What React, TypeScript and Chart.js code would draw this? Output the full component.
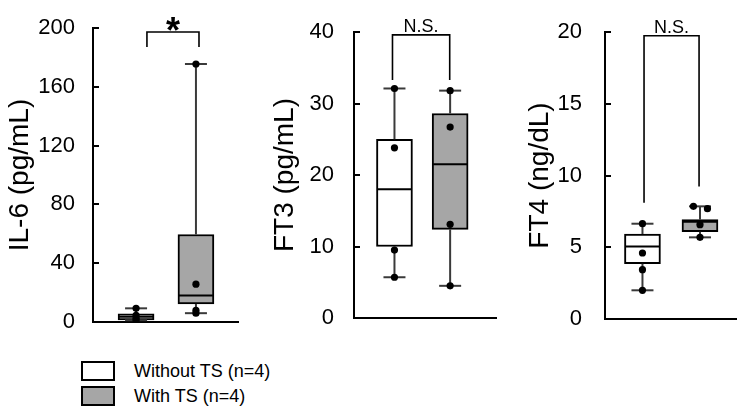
import React, { useEffect, useRef } from "react";
import { Chart, registerables } from "chart.js";

Chart.register(...registerables);

const FONT = '"Liberation Sans", Arial, Helvetica, sans-serif';

// Groups
const groupLabels = ["Without TS (n=4)", "With TS (n=4)"];
const groupFills = ["#ffffff", "#a6a6a6"];

// Box statistics per group: [min, Q1, median, Q3, max]
const il6Without = [1.2, 1.5, 3.5, 5.5, 9.3];
const il6With = [6, 12.3, 18, 59.5, 175.5];
const ft3Without = [5.7, 10, 18, 25, 32.1];
const ft3With = [4.5, 12.4, 21.5, 28.6, 31.8];
const ft4Without = [2.0, 3.85, 5.05, 5.92, 6.64];
const ft4With = [5.69, 6.08, 6.78, 6.92, 7.85];

// Individual observations
const il6PointsWithout = [9.3, 4.5, 2.5, 1.2];
const il6PointsWith = [175.5, 25.7, 8, 6];
const ft3PointsWithout = [32.1, 23.8, 9.5, 5.7];
const ft3PointsWith = [31.8, 26.7, 13.1, 4.5];
const ft4PointsWithout = [6.64, 4.6, 3.44, 2.0];
const ft4PointsWith = [7.85, 7.69, 6.57, 5.69];
const ft4JitterWith = [-0.05, 0.057, 0, 0];

// Y axes: [min, max, step]
const il6Axis = [0, 200, 40];
const ft3Axis = [0, 40, 10];
const ft4Axis = [0, 20, 5];

// Significance brackets: [xLeft, xRight, yTop, yLeftEnd, yRightEnd]
const il6Bracket = [0.372, 0.731, 197.3, 187, 187];
const ft3Bracket = [0.271, 0.674, 39.6, 33.3, 33.3];
const ft4Bracket = [0.298, 0.718, 19.74, 8.1, 9.24];
const il6Sig = "*";
const ft3Sig = "N.S.";
const ft4Sig = "N.S.";

const boxExtras = {
  id: "boxExtras",
  afterDatasetDraw(chart: any, args: any) {
    if (args.index !== 0) return;
    const cfg = chart.options.plugins.boxExtras;
    const x = chart.scales.x;
    const y = chart.scales.y;
    const ctx = chart.ctx;
    ctx.save();
    const line = (x1: number, y1: number, x2: number, y2: number) => {
      ctx.beginPath();
      ctx.moveTo(x1, y1);
      ctx.lineTo(x2, y2);
      ctx.stroke();
    };
    cfg.stats.forEach((s: number[], i: number) => {
      const cx = x.getPixelForValue(cfg.pos[i]);
      const [mn, q1, md, q3, mx] = s;
      ctx.strokeStyle = "#3a3a3a";
      ctx.lineWidth = 2;
      line(cx, y.getPixelForValue(mx), cx, y.getPixelForValue(q3));
      line(cx, y.getPixelForValue(q1), cx, y.getPixelForValue(mn));
      const ch = cfg.capHalf;
      line(cx - ch, y.getPixelForValue(mx), cx + ch, y.getPixelForValue(mx));
      line(cx - ch, y.getPixelForValue(mn), cx + ch, y.getPixelForValue(mn));
      ctx.strokeStyle = "#000";
      const bh = cfg.boxHalf;
      line(cx - bh + 1, y.getPixelForValue(md), cx + bh - 1, y.getPixelForValue(md));
    });
    ctx.restore();
  },
  afterDraw(chart: any) {
    const cfg = chart.options.plugins.boxExtras;
    const x = chart.scales.x;
    const y = chart.scales.y;
    const ctx = chart.ctx;
    const area = chart.chartArea;
    ctx.save();
    ctx.strokeStyle = "#000";
    ctx.lineWidth = 2;
    y.ticks.forEach((t: any) => {
      const py = Math.round(y.getPixelForValue(t.value));
      ctx.beginPath();
      ctx.moveTo(area.left, py);
      ctx.lineTo(area.left + 6, py);
      ctx.stroke();
    });
    const [xl, xr, yt, yle, yre] = cfg.bracket;
    const pxl = x.getPixelForValue(xl);
    const pxr = x.getPixelForValue(xr);
    const pyt = y.getPixelForValue(yt);
    ctx.lineWidth = 1.6;
    ctx.beginPath();
    ctx.moveTo(pxl, y.getPixelForValue(yle));
    ctx.lineTo(pxl, pyt);
    ctx.lineTo(pxr, pyt);
    ctx.lineTo(pxr, y.getPixelForValue(yre));
    ctx.stroke();
    ctx.fillStyle = "#000";
    ctx.textAlign = "center";
    ctx.textBaseline = "alphabetic";
    if (cfg.sig === "*") {
      ctx.font = `bold 36px ${FONT}`;
      ctx.fillText(cfg.sig, (pxl + pxr) / 2, pyt + 11);
    } else {
      ctx.font = `18px ${FONT}`;
      ctx.fillText(cfg.sig, (pxl + pxr) / 2, pyt - 3);
    }
    ctx.restore();
  },
};

type PanelCfg = {
  left: number;
  width: number;
  height: number;
  pad: { top: number; bottom: number; right: number };
  yWidth: number;
  tickPad: number;
  titlePad: number;
  title: string;
  axis: number[];
  stats: number[][];
  points: number[][];
  jitter: number[][];
  pos: number[];
  bracket: number[];
  sig: string;
};

function Panel({ cfg }: { cfg: PanelCfg }) {
  const ref = useRef<HTMLCanvasElement | null>(null);
  useEffect(() => {
    if (!ref.current) return;
    const pointData: { x: number; y: number }[] = [];
    cfg.points.forEach((vals, g) =>
      vals.forEach((v, k) => pointData.push({ x: cfg.pos[g] + (cfg.jitter[g][k] || 0), y: v }))
    );
    const chart = new Chart(ref.current, {
      type: "bar",
      data: {
        datasets: [
          {
            type: "bar",
            label: "box",
            data: cfg.stats.map((s, g) => ({ x: cfg.pos[g], y: [s[1], s[3]] })) as any,
            backgroundColor: groupFills,
            borderColor: "#000",
            borderWidth: 2,
            borderSkipped: false,
            barThickness: 36,
            order: 1,
          } as any,
          {
            type: "scatter",
            label: "points",
            data: pointData,
            pointRadius: 3.6,
            pointBackgroundColor: "#000",
            pointBorderWidth: 0,
            order: 0,
          } as any,
        ],
      },
      options: {
        responsive: false,
        animation: false,
        events: [],
        layout: { padding: { left: 0, top: cfg.pad.top, bottom: cfg.pad.bottom, right: cfg.pad.right } },
        plugins: {
          legend: { display: false },
          tooltip: { enabled: false },
          boxExtras: {
            stats: cfg.stats,
            pos: cfg.pos,
            capHalf: 11,
            boxHalf: 18,
            bracket: cfg.bracket,
            sig: cfg.sig,
          },
        } as any,
        scales: {
          x: {
            type: "linear",
            min: 0,
            max: 1,
            offset: false,
            ticks: { display: false },
            grid: { display: false, drawTicks: false, offset: false },
            border: { display: true, color: "#000", width: 2 },
            afterFit: (s: any) => {
              s.height = 0;
              s.paddingLeft = 0;
              s.paddingRight = 0;
            },
          },
          y: {
            type: "linear",
            min: cfg.axis[0],
            max: cfg.axis[1],
            ticks: {
              stepSize: cfg.axis[2],
              color: "#000",
              padding: cfg.tickPad,
              font: { size: 22, family: FONT },
            },
            grid: { display: false, drawTicks: false },
            border: { display: true, color: "#000", width: 2 },
            title: {
              display: true,
              text: cfg.title,
              color: "#000",
              font: { size: 28, family: FONT },
              padding: { top: cfg.titlePad, bottom: 0 },
            },
            afterFit: (s: any) => {
              s.width = cfg.yWidth;
              s.paddingTop = 0;
              s.paddingBottom = 0;
            },
          },
        },
      },
      plugins: [boxExtras],
    });
    return () => chart.destroy();
  }, []);
  return (
    <canvas
      ref={ref}
      width={cfg.width}
      height={cfg.height}
      style={{ position: "absolute", left: cfg.left, top: 0, width: cfg.width, height: cfg.height }}
    />
  );
}

const panels: PanelCfg[] = [
  {
    left: 0,
    width: 245,
    height: 335,
    pad: { top: 28, bottom: 13, right: 7 },
    yWidth: 93,
    tickPad: 18,
    titlePad: 3,
    title: "IL-6 (pg/mL)",
    axis: il6Axis,
    stats: [il6Without, il6With],
    points: [il6PointsWithout, il6PointsWith],
    jitter: [[], []],
    pos: [0.297, 0.71],
    bracket: il6Bracket,
    sig: il6Sig,
  },
  {
    left: 250,
    width: 250,
    height: 335,
    pad: { top: 32, bottom: 17, right: 2 },
    yWidth: 104,
    tickPad: 20,
    titlePad: 18,
    title: "FT3 (pg/mL)",
    axis: ft3Axis,
    stats: [ft3Without, ft3With],
    points: [ft3PointsWithout, ft3PointsWith],
    jitter: [[], []],
    pos: [0.285, 0.677],
    bracket: ft3Bracket,
    sig: ft3Sig,
  },
  {
    left: 500,
    width: 244,
    height: 335,
    pad: { top: 32, bottom: 16, right: 8 },
    yWidth: 105,
    tickPad: 23,
    titlePad: 23,
    title: "FT4 (ng/dL)",
    axis: ft4Axis,
    stats: [ft4Without, ft4With],
    points: [ft4PointsWithout, ft4PointsWith],
    jitter: [[], ft4JitterWith],
    pos: [0.286, 0.725],
    bracket: ft4Bracket,
    sig: ft4Sig,
  },
];

export default function App() {
  return (
    <div
      style={{
        position: "absolute",
        left: 0,
        top: 0,
        width: 744,
        height: 413,
        background: "#fff",
        overflow: "hidden",
        fontFamily: FONT,
      }}
    >
      {panels.map((p, i) => (
        <Panel key={i} cfg={p} />
      ))}
      {groupLabels.map((lab, i) => (
        <div key={lab}>
          <div
            style={{
              position: "absolute",
              left: 81,
              top: 361 + i * 25,
              width: 34,
              height: 20,
              boxSizing: "border-box",
              border: "2px solid #000",
              background: groupFills[i],
            }}
          />
          <div
            style={{
              position: "absolute",
              left: 134,
              top: 361 + i * 25,
              height: 20,
              lineHeight: "20px",
              fontSize: 18,
              color: "#000",
              whiteSpace: "nowrap",
            }}
          >
            {lab}
          </div>
        </div>
      ))}
    </div>
  );
}
